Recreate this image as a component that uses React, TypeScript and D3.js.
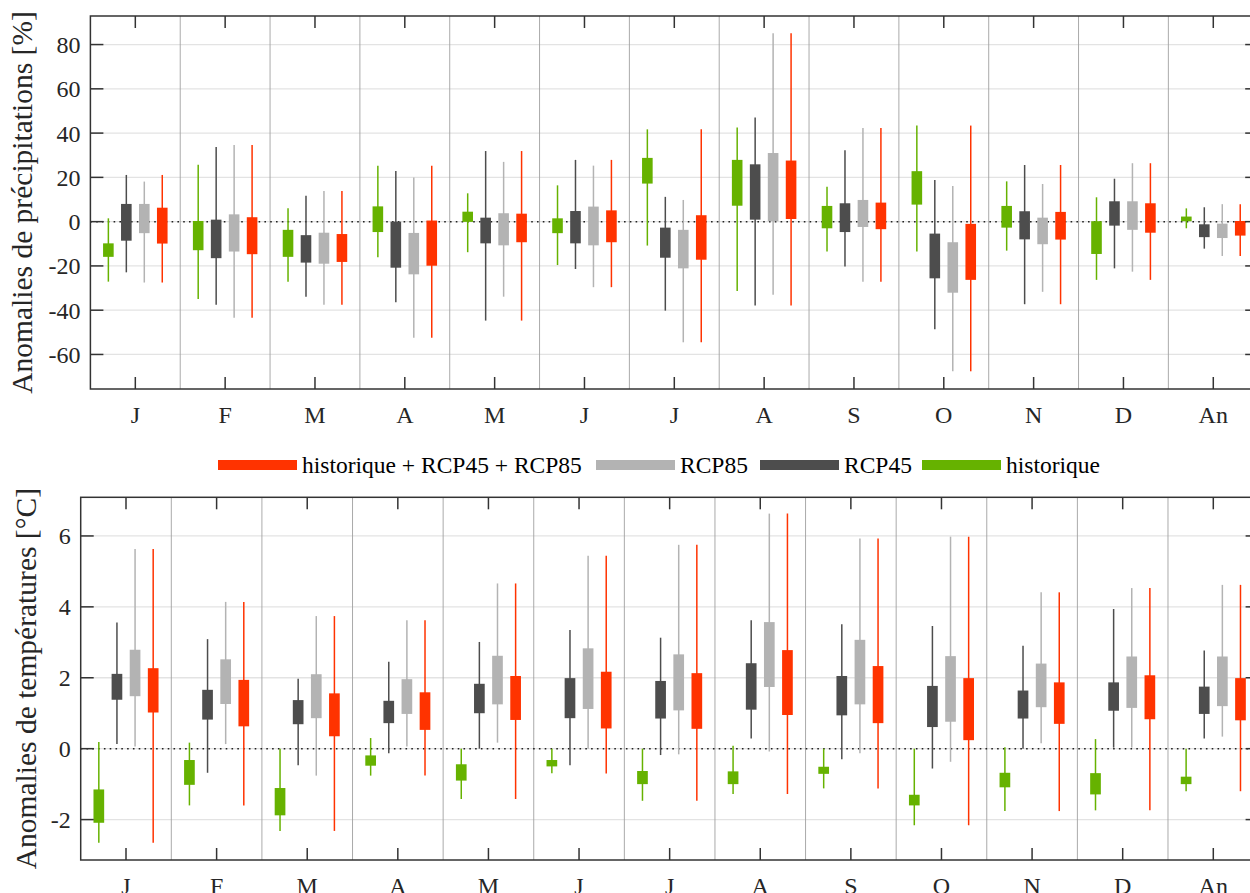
import React from "react";
import * as d3 from "d3";

const MONTHS = ["J", "F", "M", "A", "M", "J", "J", "A", "S", "O", "N", "D", "An"];
const PRECIP_TICKS = [-60, -40, -20, 0, 20, 40, 60, 80];
const TEMP_TICKS = [-2, 0, 2, 4, 6];

// each entry: [whisker low, box low, box high, whisker high]
const precipHist = [
  [-27.1, -15.9, -9.8, 1.5], [-34.9, -12.9, 0.3, 25.7], [-27.1, -15.9, -3.7, 6.0], [-16.1, -4.7, 6.9, 25.2],
  [-13.8, -0.1, 4.5, 12.8], [-19.6, -5.2, 1.5, 16.4], [-10.8, 17.2, 28.8, 41.7], [-31.3, 7.2, 27.9, 42.5],
  [-13.5, -3.0, 7.1, 15.8], [-13.5, 7.7, 22.8, 43.4], [-13.1, -2.7, 7.1, 18.2], [-26.3, -14.6, 0.2, 11.0],
  [-3.0, 0.2, 2.3, 6.0],
];
const precipRcp45 = [
  [-22.9, -8.6, 8.0, 21.1], [-37.5, -16.5, 0.9, 33.7], [-33.9, -18.5, -6.1, 11.7], [-36.4, -20.8, 0, 22.9],
  [-44.7, -9.8, 1.8, 31.9], [-21.4, -9.8, 4.8, 27.9], [-40.2, -16.3, -2.7, 11.2], [-37.9, 0.9, 25.9, 47.1],
  [-20.3, -4.7, 8.3, 32.2], [-48.6, -25.6, -5.4, 18.8], [-37.3, -8.0, 4.7, 25.6], [-21.1, -1.8, 9.2, 19.4],
  [-12.2, -7.0, -1.2, 6.5],
];
const precipRcp85 = [
  [-27.5, -5.2, 8.0, 18.1], [-43.4, -13.5, 3.3, 34.6], [-37.5, -19.0, -5.0, 13.9], [-52.4, -23.8, -5.1, 20.0],
  [-33.9, -10.7, 3.8, 27.0], [-29.6, -10.7, 6.8, 25.3], [-54.5, -21.1, -3.7, 9.8], [-33.0, 0.2, 31.0, 85.1],
  [-27.1, -2.4, 9.8, 42.3], [-67.6, -32.1, -9.3, 16.1], [-31.7, -10.2, 1.8, 17.0], [-22.6, -3.7, 9.2, 26.4],
  [-15.5, -7.4, -0.9, 7.9],
];
const precipAll = [
  [-27.5, -9.9, 6.3, 21.1], [-43.4, -14.7, 2.0, 34.6], [-37.5, -18.2, -5.6, 13.9], [-52.4, -19.9, 0.5, 25.2],
  [-44.7, -9.3, 3.6, 31.9], [-29.6, -9.3, 5.1, 27.9], [-54.5, -17.2, 2.9, 41.7], [-37.9, 1.2, 27.6, 85.1],
  [-27.1, -3.4, 8.6, 42.3], [-67.6, -26.3, -1.0, 43.4], [-37.3, -8.1, 4.4, 25.6], [-26.3, -5.0, 8.3, 26.4],
  [-15.5, -6.3, 0.3, 7.9],
];

const tempHist = [
  [-2.65, -2.09, -1.15, 0.19], [-1.6, -1.02, -0.32, 0.17], [-2.32, -1.88, -1.11, 0.0], [-0.76, -0.48, -0.19, 0.3],
  [-1.42, -0.9, -0.44, 0.0], [-0.69, -0.5, -0.32, 0.0], [-1.47, -1.0, -0.63, 0.0], [-1.28, -1.0, -0.64, 0.08],
  [-1.12, -0.71, -0.51, 0.0], [-2.16, -1.6, -1.3, 0.0], [-1.76, -1.09, -0.68, 0.04], [-1.74, -1.29, -0.69, 0.27],
  [-1.2, -1.0, -0.79, 0.0],
];
const tempRcp45 = [
  [0.13, 1.38, 2.11, 3.56], [-0.68, 0.82, 1.66, 3.09], [-0.47, 0.69, 1.37, 1.97], [-0.13, 0.72, 1.35, 2.45],
  [0.0, 1.0, 1.83, 3.01], [-0.47, 0.86, 1.99, 3.35], [-0.18, 0.85, 1.91, 3.13], [0.29, 1.1, 2.41, 3.62],
  [-0.3, 0.94, 2.05, 3.51], [-0.56, 0.61, 1.77, 3.46], [0.0, 0.85, 1.64, 2.9], [0.03, 1.07, 1.87, 3.94],
  [0.29, 0.98, 1.75, 2.77],
];
const tempRcp85 = [
  [0.06, 1.48, 2.79, 5.63], [0.13, 1.26, 2.52, 4.14], [-0.76, 0.86, 2.1, 3.74], [0.06, 0.98, 1.96, 3.62],
  [0.17, 1.25, 2.62, 4.66], [0.0, 1.12, 2.83, 5.44], [-0.16, 1.08, 2.66, 5.75], [-0.08, 1.74, 3.57, 6.63],
  [-0.13, 1.25, 3.07, 5.93], [-0.37, 0.76, 2.61, 5.98], [0.15, 1.17, 2.4, 4.41], [0.03, 1.15, 2.6, 4.53],
  [0.34, 1.2, 2.6, 4.62],
];
const tempAll = [
  [-2.65, 1.02, 2.27, 5.63], [-1.6, 0.63, 1.94, 4.14], [-2.32, 0.35, 1.56, 3.74], [-0.76, 0.53, 1.59, 3.62],
  [-1.42, 0.81, 2.05, 4.66], [-0.7, 0.57, 2.17, 5.44], [-1.47, 0.56, 2.13, 5.75], [-1.28, 0.95, 2.78, 6.63],
  [-1.12, 0.72, 2.33, 5.93], [-2.16, 0.24, 1.99, 5.98], [-1.76, 0.7, 1.87, 4.41], [-1.74, 0.83, 2.07, 4.53],
  [-1.2, 0.8, 1.99, 4.62],
];

const SERIES_NAMES = ["historique", "RCP45", "RCP85", "historique + RCP45 + RCP85"];
const COLORS = ["#66b200", "#4d4d4d", "#b3b3b3", "#ff3300"];
const OFFSETS = [-0.3, -0.1, 0.1, 0.3];
const LEGEND_ORDER = [3, 2, 1, 0];

const FONT = "'Liberation Serif', 'Times New Roman', Times, serif";

type Panel = {
  left: number; right: number; top: number; bottom: number;
  yDomain: [number, number]; ticks: number[]; label: string;
  series: number[][][]; labelX: number;
};

const panels: Panel[] = [
  {
    left: 90.4, right: 1258.2, top: 16, bottom: 389,
    yDomain: [-75.6, 92.9], ticks: PRECIP_TICKS, label: "Anomalies de précipitations [%]",
    series: [precipHist, precipRcp45, precipRcp85, precipAll], labelX: 32,
  },
  {
    left: 80.7, right: 1258.6, top: 497.3, bottom: 860,
    yDomain: [-3.14, 7.09], ticks: TEMP_TICKS, label: "Anomalies de températures [°C]",
    series: [tempHist, tempRcp45, tempRcp85, tempAll], labelX: 36,
  },
];

function PanelView({ p }: { p: Panel }) {
  const x = d3.scaleLinear().domain([0.5, 13.5]).range([p.left, p.right]);
  const y = d3.scaleLinear().domain(p.yDomain).range([p.bottom, p.top]);
  const boxW = x(0.118) - x(0);
  const tickLen = 13;
  const cats = d3.range(1, MONTHS.length + 1);
  const seps = d3.range(1, MONTHS.length).map((i) => i + 0.5);
  const midY = (p.top + p.bottom) / 2;
  return (
    <g>
      {p.ticks.map((t) => (
        <line key={"g" + t} x1={p.left} x2={p.right} y1={y(t)} y2={y(t)} stroke="#e3e3e3" strokeWidth={1.3} />
      ))}
      {seps.map((s) => (
        <line key={"s" + s} x1={x(s)} x2={x(s)} y1={p.top} y2={p.bottom} stroke="#a0a0a0" strokeWidth={0.9} />
      ))}
      <line x1={p.left} x2={p.right} y1={y(0)} y2={y(0)} stroke="#222" strokeWidth={1.5} strokeDasharray="1.6,4.2" />
      {p.series.map((ser, si) =>
        ser.map((v, i) => {
          const cx = x(i + 1 + OFFSETS[si]);
          return (
            <g key={si + "-" + i}>
              <line x1={cx} x2={cx} y1={y(v[0])} y2={y(v[3])} stroke={COLORS[si]} strokeWidth={1.5} />
              <rect x={cx - boxW / 2} y={y(v[2])} width={boxW} height={Math.max(1, y(v[1]) - y(v[2]))} fill={COLORS[si]} />
            </g>
          );
        })
      )}
      <rect x={p.left} y={p.top} width={p.right - p.left} height={p.bottom - p.top} fill="none" stroke="#333" strokeWidth={1.5} />
      {cats.map((c) => (
        <g key={"xt" + c}>
          <line x1={x(c)} x2={x(c)} y1={p.bottom} y2={p.bottom - 12} stroke="#333" strokeWidth={1.5} />
          <line x1={x(c)} x2={x(c)} y1={p.top} y2={p.top + 12} stroke="#333" strokeWidth={1.5} />
          <text x={x(c)} y={p.bottom + 34} textAnchor="middle" fontFamily={FONT} fontSize={24} fill="#262626">
            {MONTHS[c - 1]}
          </text>
        </g>
      ))}
      {p.ticks.map((t) => (
        <g key={"yt" + t}>
          <line x1={p.left} x2={p.left + tickLen} y1={y(t)} y2={y(t)} stroke="#333" strokeWidth={1.5} />
          <line x1={p.right} x2={p.right - tickLen} y1={y(t)} y2={y(t)} stroke="#333" strokeWidth={1.5} />
          <text x={p.left - 10} y={y(t)} dy="0.35em" textAnchor="end" fontFamily={FONT} fontSize={24} fill="#262626">
            {t}
          </text>
        </g>
      ))}
      <text
        transform={`translate(${p.labelX},${midY}) rotate(-90)`}
        textAnchor="middle" fontFamily={FONT} fontSize={29.5} fill="#262626"
      >
        {p.label}
      </text>
    </g>
  );
}

const LEGEND_X = [218, 596, 760, 922];

export default function App() {
  return (
    <svg width={1250} height={893} style={{ position: "absolute", left: 0, top: 0, background: "#fff" }}>
      <rect width={1250} height={893} fill="#fff" />
      {panels.map((p, i) => (
        <PanelView key={i} p={p} />
      ))}
      {LEGEND_ORDER.map((si, k) => (
        <g key={"lg" + si}>
          <rect x={LEGEND_X[k]} y={460} width={79} height={10} fill={COLORS[si]} />
          <text x={LEGEND_X[k] + 84} y={465} dy="0.35em" fontFamily={FONT} fontSize={23.5} fill="#000">
            {SERIES_NAMES[si]}
          </text>
        </g>
      ))}
    </svg>
  );
}
